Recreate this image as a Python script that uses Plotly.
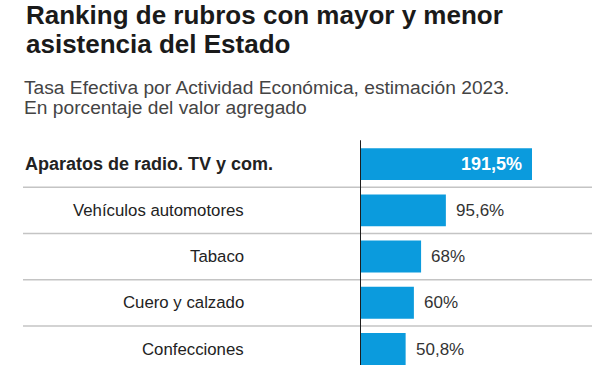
import plotly.graph_objects as go

categories = ["Aparatos de radio. TV y com.", "Vehículos automotores", "Tabaco",
              "Cuero y calzado", "Confecciones"]
values = [191.5, 95.6, 68, 60, 50.8]
labels = [f"{v:g}".replace(".", ",") + "%" for v in values]

W, H = 600, 365
ROW = 46.25
ROW0 = 164                  # centre of first row in pixels
TOP = ROW0 - ROW / 2        # plot-area top
PH = H - TOP
AX_X = 360
SCALE = 172 / 191.5
XR = (W - AX_X) / SCALE

def px(x):
    return x / W

def py(y):
    return (H - y) / PH

FONT = "Liberation Sans, Arial, sans-serif"
BLUE = "#0b9bdd"

ypos = list(range(len(categories)))

fig = go.Figure(go.Bar(
    x=values, y=ypos, orientation="h",
    marker=dict(color=BLUE, line=dict(width=0)),
    width=0.69,
    hoverinfo="skip",
))

shapes = []
for i in range(len(categories) - 1):
    shapes.append(dict(type="line", xref="paper", yref="y", x0=px(23), x1=px(592),
                       y0=i + 0.5, y1=i + 0.5, line=dict(color="#c4c4c4", width=1.5),
                       layer="below"))
shapes.append(dict(type="line", xref="x", yref="paper", x0=0, x1=0,
                   y0=0, y1=py(140), line=dict(color="#1e1e1e", width=2)))

annotations = []
for i, c in enumerate(categories):
    bold = i == 0
    annotations.append(dict(
        x=px(275 if bold else 246), y=i, xref="paper", yref="y",
        text=f"<b>{c}</b>" if bold else c, showarrow=False, xanchor="right",
        yanchor="middle",
        font=dict(family=FONT, size=18 if bold else 16.8, color="#222222")))

for i, (v, t) in enumerate(zip(values, labels)):
    inside = i == 0
    annotations.append(dict(
        x=v, y=i, xref="x", yref="y", showarrow=False,
        text=f"<b>{t}</b>" if inside else t,
        xanchor="right" if inside else "left", yanchor="middle",
        xshift=-8 if inside else 8,
        font=dict(family=FONT, size=18 if inside else 17,
                  color="white" if inside else "#333333")))

annotations += [
    dict(x=px(24), y=py(14.5), xref="paper", yref="paper", xanchor="left", yanchor="middle",
         text="<b>Ranking de rubros con mayor y menor</b>", showarrow=False,
         font=dict(family=FONT, size=26, color="#1a1a1a")),
    dict(x=px(24), y=py(43.5), xref="paper", yref="paper", xanchor="left", yanchor="middle",
         text="<b>asistencia del Estado</b>", showarrow=False,
         font=dict(family=FONT, size=26, color="#1a1a1a")),
    dict(x=px(22), y=py(87.5), xref="paper", yref="paper", xanchor="left", yanchor="middle",
         text="Tasa Efectiva por Actividad Económica, estimación 2023.", showarrow=False,
         font=dict(family=FONT, size=19.2, color="#444444")),
    dict(x=px(22), y=py(107.5), xref="paper", yref="paper", xanchor="left", yanchor="middle",
         text="En porcentaje del valor agregado", showarrow=False,
         font=dict(family=FONT, size=19.2, color="#444444")),
]

fig.update_layout(
    width=W, height=H,
    margin=dict(l=0, r=0, t=TOP, b=0, pad=0, autoexpand=False),
    paper_bgcolor="white", plot_bgcolor="white",
    showlegend=False,
    hovermode=False,
    xaxis=dict(domain=[AX_X / W, 1], range=[0, XR], visible=False, fixedrange=True),
    yaxis=dict(range=[PH / ROW - 0.5, -0.5], visible=False, fixedrange=True),
    shapes=shapes,
    annotations=annotations,
)

fig.write_html("out.html",
               config={"displayModeBar": False, "staticPlot": True},
               post_script="document.body.style.margin='0';document.body.style.overflow='hidden';")
